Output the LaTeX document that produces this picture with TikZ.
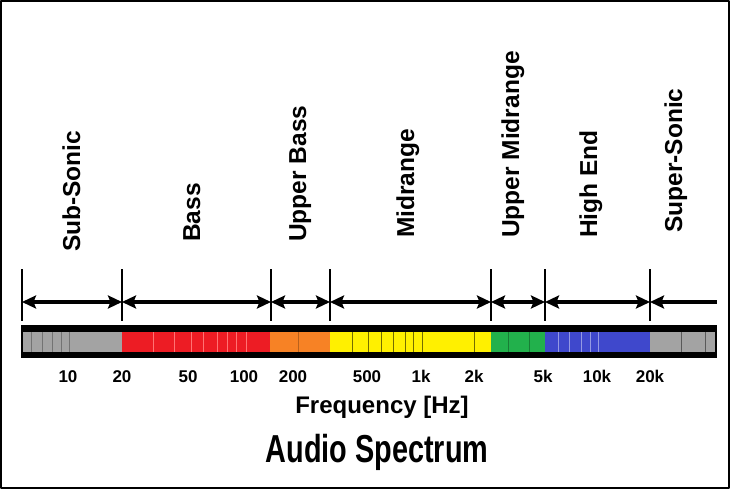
\documentclass[tikz,border=0pt]{standalone}
\usepackage{fontspec}
\setmainfont{Liberation Sans}
\newfontfamily\narrowsans[FakeStretch=0.74]{Liberation Sans}
\usetikzlibrary{arrows.meta}

\definecolor{bandgray}{RGB}{163,163,163}
\definecolor{bandred}{RGB}{237,28,36}
\definecolor{bandorange}{RGB}{247,130,37}
\definecolor{bandyellow}{RGB}{255,240,0}
\definecolor{bandgreen}{RGB}{34,177,76}
\definecolor{bandblue}{RGB}{63,72,204}

\begin{document}
\begin{tikzpicture}[x=1pt, y=-1pt, line join=round,
    rangelabel/.style={rotate=90, anchor=base west, inner sep=0pt,
      font=\fontsize{24.5}{26}\selectfont\bfseries},
    ticklabel/.style={anchor=base, inner sep=0pt,
      font=\fontsize{17}{18}\selectfont\bfseries},
    dimarrow/.style={line width=3.6pt,
      {Stealth[length=14pt, width=13pt, inset=2.5pt]}-{Stealth[length=14pt, width=13pt, inset=2.5pt]}},
    divider/.style={line width=1pt}]
  \useasboundingbox (0,0) rectangle (730,489);
  % frame
  \draw[line width=2pt] (1,1) rectangle (729,488);

  % range boundaries
  \foreach \n/\x in {0/22,1/122,2/271,3/330,4/491,5/545,6/650}{
    \coordinate (b\n) at (\x,302);
    \coordinate (t\n) at (\x,269);
    \coordinate (u\n) at (\x,321);
    \draw[line width=1.3pt] (t\n) -- (u\n);
  }
  \coordinate (bend) at (717,302);

  % range arrows
  \foreach \a/\b in {0/1,1/2,2/3,3/4,4/5,5/6}
    \draw[dimarrow] (b\a) -- (b\b);
  \draw[line width=3.6pt, {Stealth[length=14pt, width=13pt, inset=2.5pt]}-] (b6) -- (bend);

  % range names
  \node[rangelabel] (subsonic) at (80,252) {Sub-Sonic};
  \node[rangelabel] (bass) at (200,242) {Bass};
  \node[rangelabel] (upperbass) at (306,242) {Upper Bass};
  \node[rangelabel] (midrange) at (414,238) {Midrange};
  \node[rangelabel] (uppermid) at (519,238) {Upper Midrange};
  \node[rangelabel] (highend) at (597,238) {High End};
  \node[rangelabel] (supersonic) at (682,233) {Super-Sonic};

  % spectrum bar
  \fill[black] (21,325) rectangle (717,358);
  \fill[bandgray] (23,332) rectangle (122,352);
  \fill[bandred] (122,332) rectangle (270,352);
  \fill[bandorange] (270,332) rectangle (330,352);
  \fill[bandyellow] (330,332) rectangle (491,352);
  \fill[bandgreen] (491,332) rectangle (545,352);
  \fill[bandblue] (545,332) rectangle (650,352);
  \fill[bandgray] (650,332) rectangle (715,352);

  % dividers inside the bands
  \foreach \x in {31,42,52,61,69}
    \draw[divider, black!55] (\x,332) -- (\x,352);
  \foreach \x in {153,174,191,203,217,227,236,246}
    \draw[divider, red!55!white] (\x,332) -- (\x,352);
  \draw[divider, bandorange!75!black] (298,332) -- (298,352);
  \foreach \x in {352,368,381,393,405,413,422,474}
    \draw[divider, bandyellow!45!black] (\x,332) -- (\x,352);
  \foreach \x in {508,529}
    \draw[divider, bandgreen!70!black] (\x,332) -- (\x,352);
  \foreach \x in {558,569,581,590,598}
    \draw[divider, bandblue!55!white] (\x,332) -- (\x,352);
  \foreach \x in {681,705}
    \draw[divider, black!65] (\x,332) -- (\x,352);

  % frequency marks
  \foreach \x/\t [count=\i] in {68/10,122/20,188/50,244/100,293/200,367/500,421/1k,474/2k,543/5k,597/10k,650/20k}
    \node[ticklabel] (f\i) at (\x,382) {\t};

  % captions
  \node[anchor=base, inner sep=0pt, font=\fontsize{24}{26}\selectfont\bfseries] (axis) at (382,413) {Frequency [Hz]};
  \node[anchor=base, inner sep=0pt, font=\fontsize{39}{42}\selectfont\narrowsans\bfseries] (title) at (377,462) {Audio Spectrum};
\end{tikzpicture}
\end{document}
